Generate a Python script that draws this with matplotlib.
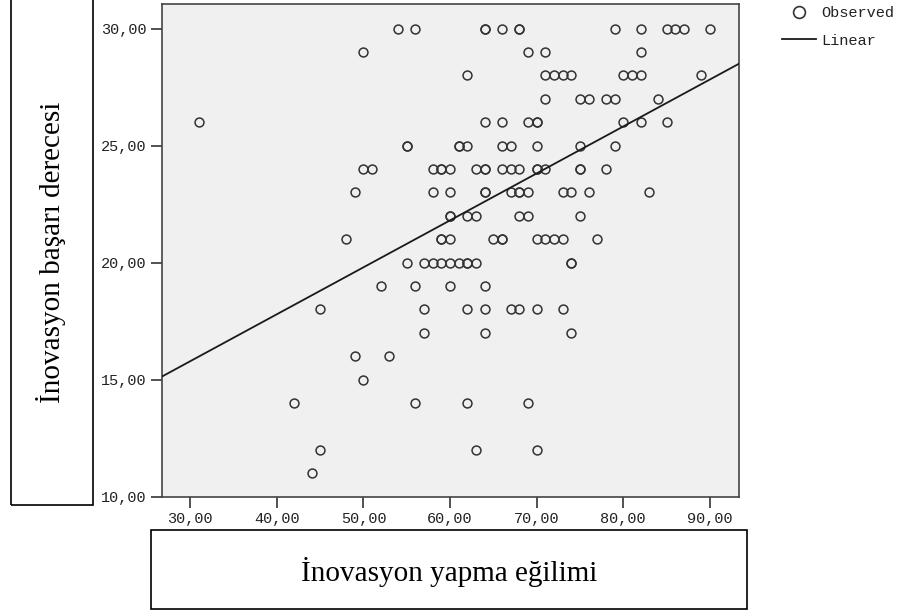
import numpy as np
import matplotlib.pyplot as plt
from matplotlib.lines import Line2D
from matplotlib.patches import Rectangle

# İnovasyon başarı derecesi levels and the İnovasyon yapma eğilimi values seen at each level
basari_levels = [30, 29, 28, 27, 26, 25, 24, 23, 22, 21, 20, 19, 18, 17, 16, 15, 14, 12, 11]
egilim_by_level = [
    [54, 56, 64, 64, 66, 68, 68, 79, 82, 85, 86, 87, 90],
    [50, 69, 71, 82],
    [62, 71, 72, 73, 74, 80, 81, 82, 89],
    [71, 75, 76, 78, 79, 84],
    [31, 64, 66, 69, 70, 70, 80, 82, 85],
    [55, 55, 61, 61, 62, 66, 67, 70, 75, 79],
    [50, 51, 58, 59, 59, 60, 63, 64, 64, 66, 67, 68, 70, 70, 71, 75, 75, 78],
    [49, 58, 60, 64, 64, 67, 68, 68, 69, 73, 74, 76, 83],
    [60, 60, 62, 63, 68, 69, 75],
    [48, 59, 59, 60, 65, 66, 66, 70, 71, 72, 73, 77],
    [55, 57, 58, 59, 60, 61, 62, 62, 63, 74, 74],
    [52, 56, 60, 64],
    [45, 57, 62, 64, 67, 68, 70, 73],
    [57, 64, 74],
    [49, 53],
    [50],
    [42, 56, 62, 69],
    [45, 63, 70],
    [44],
]

x_ticks = [30, 40, 50, 60, 70, 80, 90]
y_ticks = [10, 15, 20, 25, 30]

x = np.concatenate([np.array(v, dtype=float) for v in egilim_by_level])
y = np.concatenate([np.full(len(v), lvl, dtype=float) for lvl, v in zip(basari_levels, egilim_by_level)])

W, H = 902, 613
fig = plt.figure(figsize=(W / 100, H / 100), dpi=100)
fig.patch.set_facecolor('white')

ax = fig.add_axes([161.7 / W, (H - 496.7) / H, 577.6 / W, 492.7 / H])
ax.set_facecolor('#f0f0f0')

ax.plot(x, y, 'o', ls='none', ms=6.4, mfc='none', mec='#333333', mew=1.1, zorder=3)

xmin, xmax = 26.7, 93.4
slope, intercept = np.polyfit(x, y, 1)
xl = np.array([xmin, xmax])
ax.plot(xl, intercept + slope * xl, color='#1a1a1a', lw=1.3, zorder=4)

ax.set_xlim(xmin, xmax)
ax.set_ylim(10, 31.05)

mono = 'Liberation Mono'
ax.set_xticks(x_ticks)
ax.set_xticklabels([f'{v},00' for v in x_ticks], family=mono, fontsize=11, color='#222222')
ax.set_yticks(y_ticks)
ax.set_yticklabels([f'{v},00' for v in y_ticks], family=mono, fontsize=11, color='#222222')
ax.tick_params(axis='both', direction='out', length=8, width=1.2, color='#333333', pad=3)

for s in ax.spines.values():
    s.set_color('#444444')
    s.set_linewidth(1.2)

# axis titles in boxes
serif = 'Liberation Serif'
fig.patches.append(Rectangle((11 / W, (H - 505) / H), 82 / W, 520 / H, transform=fig.transFigure,
                             fill=False, ec='black', lw=1.2, clip_on=False))
fig.text(51 / W, 1 - 252.5 / H, 'İnovasyon başarı derecesi', family=serif, fontsize=21,
         rotation=90, ha='center', va='center')

fig.patches.append(Rectangle((151 / W, (H - 609) / H), 596 / W, 79 / H, transform=fig.transFigure,
                             fill=False, ec='black', lw=1.2, clip_on=False))
fig.text(449 / W, 1 - 572 / H, 'İnovasyon yapma eğilimi', family=serif, fontsize=21,
         ha='center', va='center')

handles = [
    Line2D([], [], marker='o', ls='none', ms=8.5, mfc='none', mec='#333333', mew=1.2, label='Observed'),
    Line2D([], [], color='#1a1a1a', lw=1.3, label='Linear'),
]
fig.legend(handles=handles, loc='upper left', bbox_to_anchor=(782 / W, 1 - 6 / H), frameon=False,
           prop={'family': mono, 'size': 11}, handlelength=2.2, handletextpad=0.4,
           borderaxespad=0, borderpad=0, labelspacing=0.9, labelcolor='#222222')

fig.savefig('out.png', dpi=100)
